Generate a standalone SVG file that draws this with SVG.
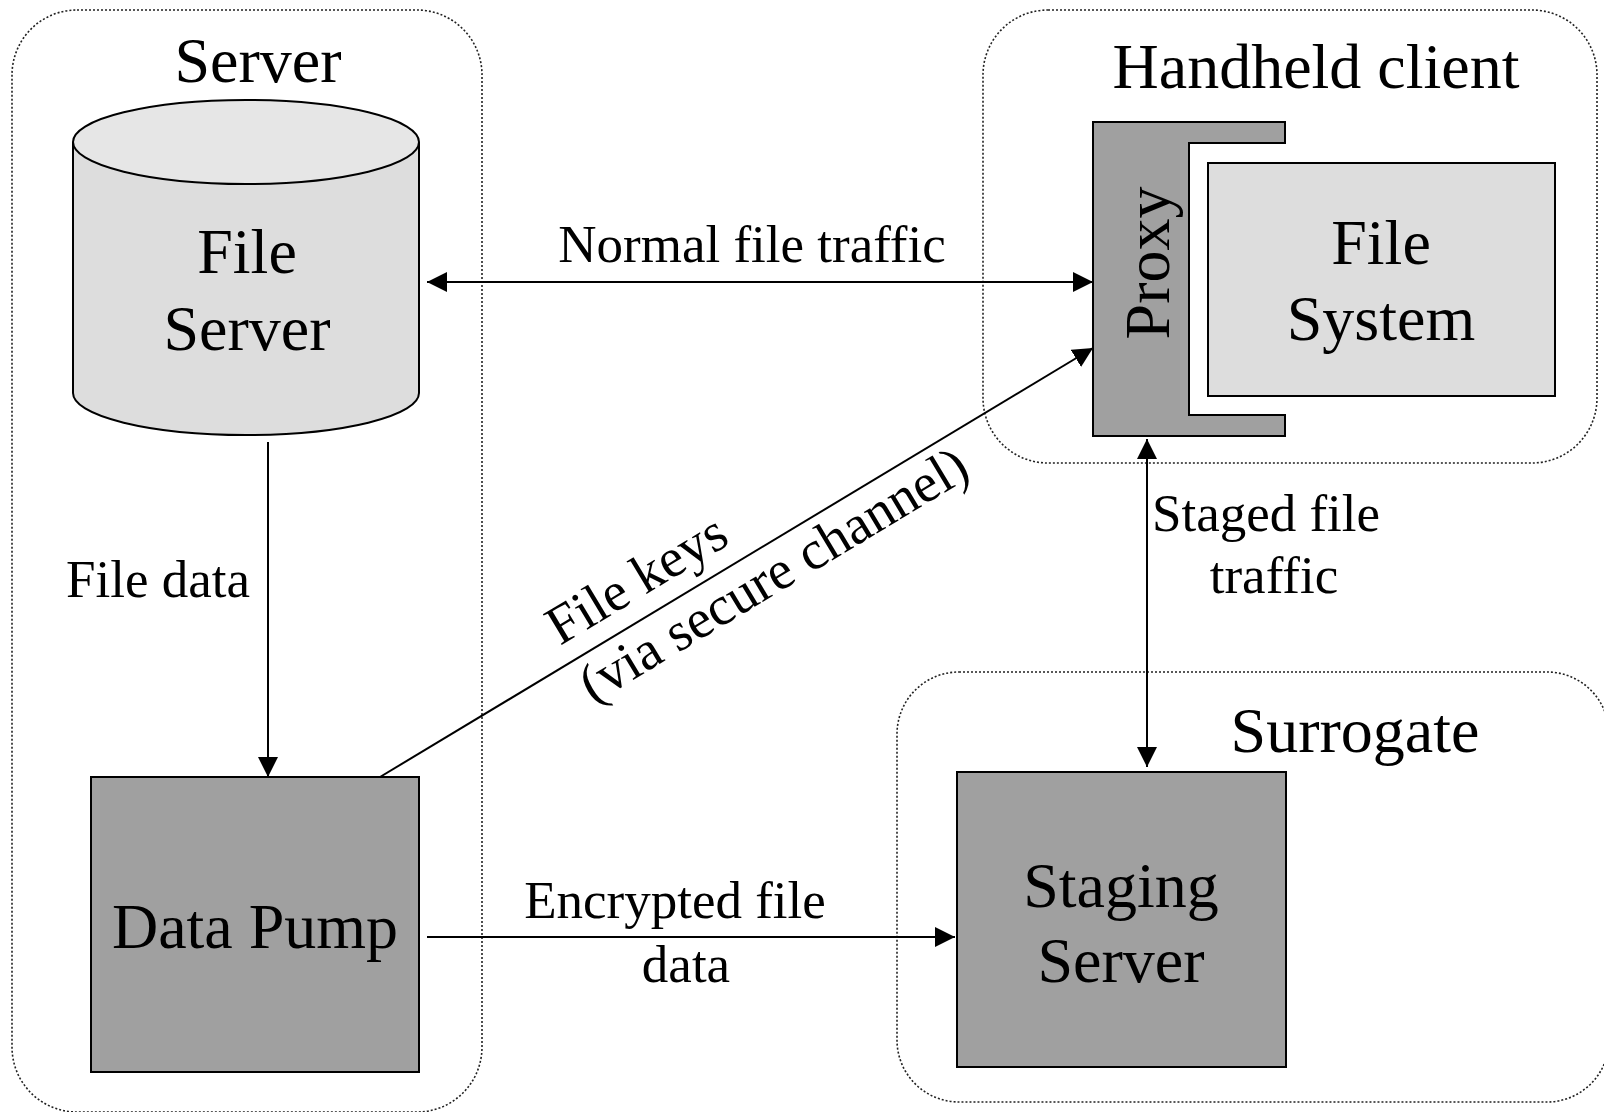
<svg xmlns="http://www.w3.org/2000/svg" width="1604" height="1112" viewBox="0 0 1604 1112">
<defs>
<style>
.cont{fill:none;stroke:#222;stroke-width:1.6;stroke-dasharray:2 2}
.box{stroke:#000;stroke-width:2}
.dark{fill:#a0a0a0}
.light{fill:#dddddd}
.t{font-family:"Liberation Serif","Times New Roman",serif;fill:#000}
.big{font-size:64px}
.lbl{font-size:53px}
.rot{font-size:55px}
.conn{fill:none;stroke:#000;stroke-width:2}
</style>
<marker id="ah" viewBox="0 0 20 20" refX="20" refY="10" markerWidth="20" markerHeight="20" markerUnits="userSpaceOnUse" orient="auto-start-reverse">
<path d="M0,0 L20,10 L0,20 z" fill="#000"/>
</marker>
</defs>
<rect width="1604" height="1112" fill="#fff"/>
<g id="server-container">
<rect class="cont" x="12" y="10" width="470" height="1102" rx="65" ry="65"/>
<text class="t big" x="258" y="82" text-anchor="middle">Server</text>
</g>
<g id="handheld-container">
<rect class="cont" x="983" y="10" width="614" height="453" rx="65" ry="65"/>
<text class="t big" x="1316" y="88" text-anchor="middle">Handheld client</text>
</g>
<g id="surrogate-container">
<rect class="cont" x="897" y="672" width="712" height="430" rx="62" ry="62"/>
<text class="t big" x="1355" y="752" text-anchor="middle">Surrogate</text>
</g>
<g id="file-server">
<path class="box light" d="M73,142 V393 A173,42 0 0 0 419,393 V142"/>
<ellipse class="box" cx="246" cy="142" rx="173" ry="42" fill="#e6e6e6"/>
<text class="t big" x="247" y="273" text-anchor="middle">File</text>
<text class="t big" x="247" y="350" text-anchor="middle">Server</text>
</g>
<g id="data-pump">
<rect class="box dark" x="91" y="777" width="328" height="295"/>
<text class="t big" x="255" y="948" text-anchor="middle">Data Pump</text>
</g>
<g id="proxy">
<path class="box dark" d="M1093,122 H1285 V143 H1189 V415 H1285 V436 H1093 Z"/>
<text class="t big" transform="translate(1169,263) rotate(-90)" x="0" y="0" text-anchor="middle">Proxy</text>
</g>
<g id="file-system">
<rect class="box light" x="1208" y="163" width="347" height="233"/>
<text class="t big" x="1381" y="264" text-anchor="middle">File</text>
<text class="t big" x="1381" y="340" text-anchor="middle">System</text>
</g>
<g id="staging-server">
<rect class="box dark" x="957" y="772" width="329" height="295"/>
<text class="t big" x="1121" y="907" text-anchor="middle">Staging</text>
<text class="t big" x="1121" y="982" text-anchor="middle">Server</text>
</g>
<g id="connectors">
<line class="conn" x1="427" y1="282" x2="1093" y2="282" marker-start="url(#ah)" marker-end="url(#ah)"/>
<line class="conn" x1="268" y1="442" x2="268" y2="777" marker-end="url(#ah)"/>
<line class="conn" x1="380" y1="777" x2="1093" y2="348" marker-end="url(#ah)"/>
<line class="conn" x1="1147" y1="439" x2="1147" y2="767" marker-start="url(#ah)" marker-end="url(#ah)"/>
<line class="conn" x1="427" y1="937" x2="955" y2="937" marker-end="url(#ah)"/>
<text class="t lbl" x="752" y="262" text-anchor="middle">Normal file traffic</text>
<text class="t lbl" x="158" y="597" text-anchor="middle">File data</text>
<text class="t lbl" x="1266" y="531" text-anchor="middle">Staged file</text>
<text class="t lbl" x="1274" y="593" text-anchor="middle">traffic</text>
<text class="t lbl" x="675" y="918" text-anchor="middle">Encrypted file</text>
<text class="t lbl" x="686" y="982" text-anchor="middle">data</text>
<text class="t rot" transform="translate(560,646) rotate(-31)" x="0" y="0">File keys</text>
<text class="t rot" transform="translate(593,704) rotate(-31)" x="0" y="0">(via secure channel)</text>
</g>
</svg>
